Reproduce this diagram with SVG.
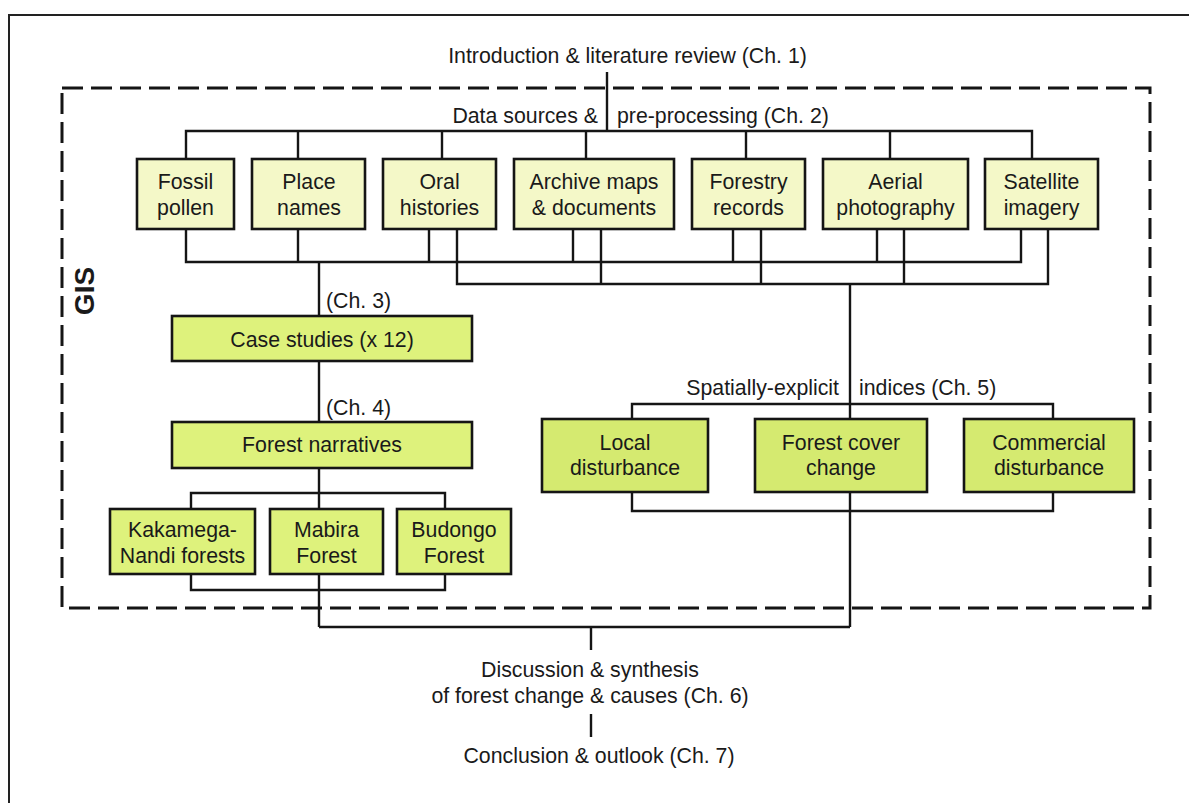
<svg xmlns="http://www.w3.org/2000/svg" width="1189" height="803" viewBox="0 0 1189 803">
  <style>
    text { font-family: "Liberation Sans", Arial, sans-serif; font-size: 21.3px; fill: #1a1a1a; }
    .mid { text-anchor: middle; }
    .src { fill: #f4f8c8; stroke: #151515; stroke-width: 2.6; }
    .node { fill: #def27c; stroke: #151515; stroke-width: 2.6; }
    .idx { fill: #d5ea70; stroke: #151515; stroke-width: 2.6; }
    .wire { fill: none; stroke: #151515; stroke-width: 2.4; }
  </style>
  <rect width="1189" height="803" fill="#ffffff"/>

  <!-- page frame -->
  <path d="M9,803 V15 H1189" fill="none" stroke="#222" stroke-width="2"/>

  <!-- GIS boundary -->
  <g id="gis">
    <rect x="62" y="88" width="1088" height="520" fill="none" stroke="#151515" stroke-width="3" stroke-dasharray="21 8"/>
    <text x="93.5" y="291" text-anchor="middle" transform="rotate(-90 93.5 291)" style="font-weight:bold;font-size:28px">GIS</text>
  </g>

  <!-- connectors -->
  <g id="connectors" class="wire">
    <path d="M607,72 V131"/>
    <path d="M186,159 V131 H1032 V159 M298,131 V159 M442,131 V159 M586,131 V159 M746,131 V159 M890,131 V159"/>
    <path d="M186,229 V262 H1021 V229 M298,229 V262 M429,229 V262 M573,229 V262 M733,229 V262 M877,229 V262"/>
    <path d="M457,229 V284 H1048 V229 M601,229 V284 M761,229 V284 M904,229 V284"/>
    <path d="M319,262 V316 M319,361 V422 M319,468 V509"/>
    <path d="M191,509 V493 H445 V509"/>
    <path d="M191,574 V590 H445 V574 M319,574 V627"/>
    <path d="M850,284 V419 M632,419 V404 H1053 V419"/>
    <path d="M632,492 V511 H1053 V492 M850,492 V627"/>
    <path d="M319,627 H850 M591,627 V650"/>
    <path d="M591,714 V737"/>
  </g>

  <!-- chapter labels -->
  <g id="labels">
    <text x="627.5" y="63" class="mid">Introduction &amp; literature review (Ch. 1)</text>
    <text x="598" y="123" text-anchor="end">Data sources &amp;</text>
    <text x="617" y="123">pre-processing (Ch. 2)</text>
    <text x="326" y="308">(Ch. 3)</text>
    <text x="326" y="415">(Ch. 4)</text>
    <text x="839" y="395" text-anchor="end">Spatially-explicit</text>
    <text x="859" y="395">indices (Ch. 5)</text>
    <text x="590" y="677" class="mid">Discussion &amp; synthesis</text>
    <text x="590" y="703" class="mid">of forest change &amp; causes (Ch. 6)</text>
    <text x="599" y="763" class="mid">Conclusion &amp; outlook (Ch. 7)</text>
  </g>

  <!-- data sources -->
  <g id="fossil-pollen">
    <rect class="src" x="137" y="159" width="97" height="70"/>
    <text class="mid" x="185.5" y="189">Fossil</text>
    <text class="mid" x="185.5" y="215">pollen</text>
  </g>
  <g id="place-names">
    <rect class="src" x="252" y="159" width="113" height="70"/>
    <text class="mid" x="309" y="189">Place</text>
    <text class="mid" x="309" y="215">names</text>
  </g>
  <g id="oral-histories">
    <rect class="src" x="383" y="159" width="113" height="70"/>
    <text class="mid" x="439.5" y="189">Oral</text>
    <text class="mid" x="439.5" y="215">histories</text>
  </g>
  <g id="archive-maps">
    <rect class="src" x="514" y="159" width="160" height="70"/>
    <text class="mid" x="594" y="189">Archive maps</text>
    <text class="mid" x="594" y="215">&amp; documents</text>
  </g>
  <g id="forestry-records">
    <rect class="src" x="692" y="159" width="113" height="70"/>
    <text class="mid" x="748.5" y="189">Forestry</text>
    <text class="mid" x="748.5" y="215">records</text>
  </g>
  <g id="aerial-photography">
    <rect class="src" x="823" y="159" width="145" height="70"/>
    <text class="mid" x="895.5" y="189">Aerial</text>
    <text class="mid" x="895.5" y="215">photography</text>
  </g>
  <g id="satellite-imagery">
    <rect class="src" x="985" y="159" width="113" height="70"/>
    <text class="mid" x="1041.5" y="189">Satellite</text>
    <text class="mid" x="1041.5" y="215">imagery</text>
  </g>

  <!-- case studies branch -->
  <g id="case-studies">
    <rect class="node" x="172" y="316" width="300" height="45"/>
    <text class="mid" x="322" y="347">Case studies (x 12)</text>
  </g>
  <g id="forest-narratives">
    <rect class="node" x="172" y="422" width="300" height="46"/>
    <text class="mid" x="322" y="452">Forest narratives</text>
  </g>
  <g id="kakamega-nandi">
    <rect class="node" x="110" y="509" width="145" height="65"/>
    <text class="mid" x="182.5" y="537">Kakamega-</text>
    <text class="mid" x="182.5" y="563">Nandi forests</text>
  </g>
  <g id="mabira">
    <rect class="node" x="270" y="509" width="113" height="65"/>
    <text class="mid" x="326.5" y="537">Mabira</text>
    <text class="mid" x="326.5" y="563">Forest</text>
  </g>
  <g id="budongo">
    <rect class="node" x="397" y="509" width="114" height="65"/>
    <text class="mid" x="454" y="537">Budongo</text>
    <text class="mid" x="454" y="563">Forest</text>
  </g>

  <!-- spatial indices -->
  <g id="local-disturbance">
    <rect class="idx" x="542" y="419" width="166" height="73"/>
    <text class="mid" x="625" y="450">Local</text>
    <text class="mid" x="625" y="475">disturbance</text>
  </g>
  <g id="forest-cover-change">
    <rect class="idx" x="755" y="419" width="172" height="73"/>
    <text class="mid" x="841" y="450">Forest cover</text>
    <text class="mid" x="841" y="475">change</text>
  </g>
  <g id="commercial-disturbance">
    <rect class="idx" x="964" y="419" width="170" height="73"/>
    <text class="mid" x="1049" y="450">Commercial</text>
    <text class="mid" x="1049" y="475">disturbance</text>
  </g>
</svg>
